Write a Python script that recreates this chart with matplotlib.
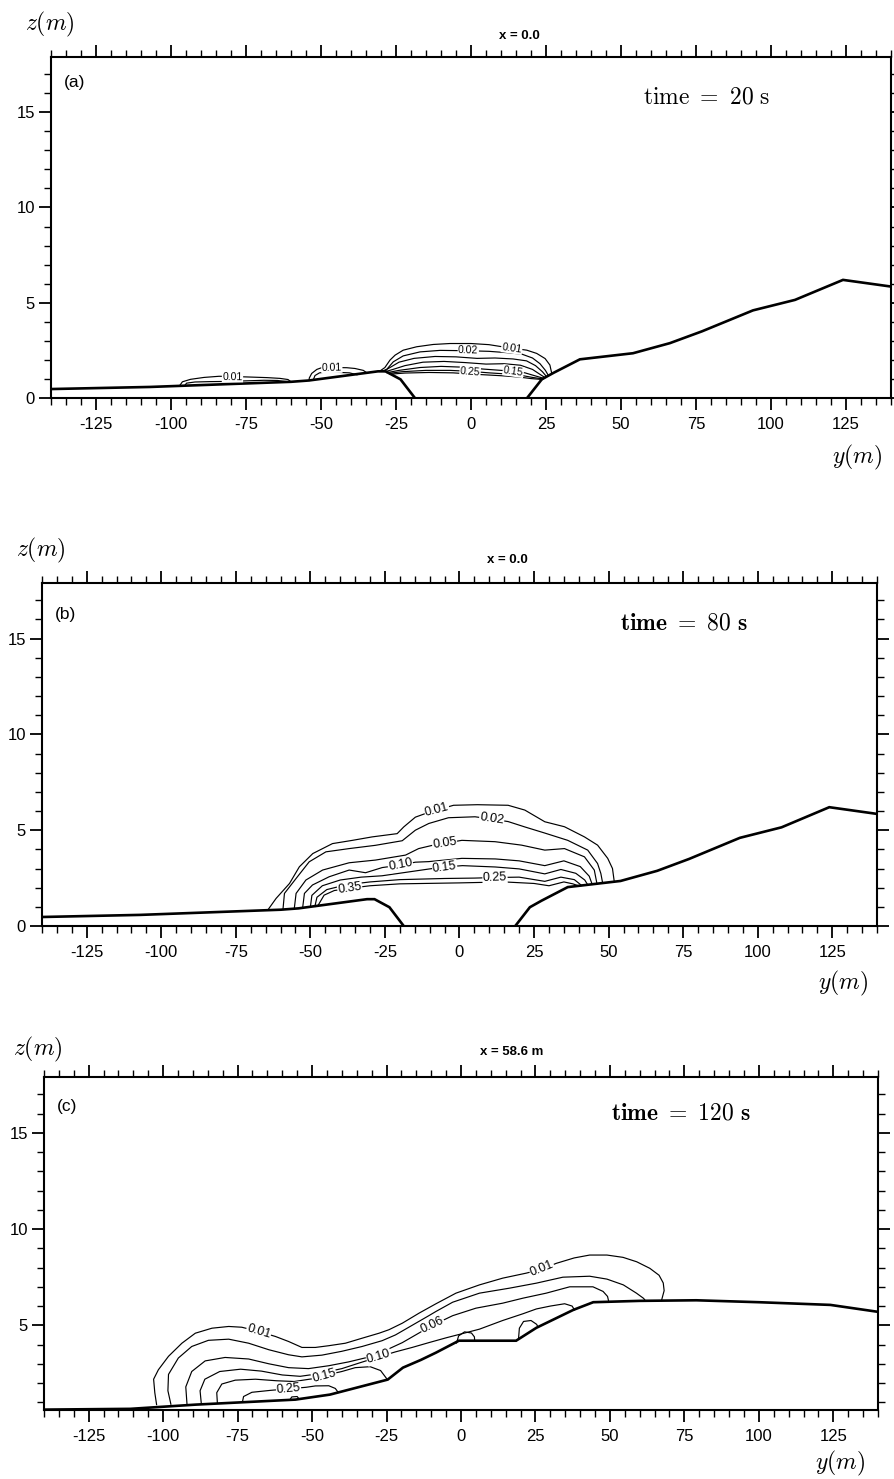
import numpy as np
import matplotlib
matplotlib.use("Agg")
import matplotlib.pyplot as plt
from matplotlib.ticker import MultipleLocator

plt.rcParams['font.family'] = ['Liberation Sans', 'DejaVu Sans']
plt.rcParams['mathtext.fontset'] = 'cm'
plt.rcParams['axes.unicode_minus'] = False

nan = np.nan
W, H = 895, 1479

# ground profile, section x = 0.0 (panels a and b); the gap is the channel
X0_GROUND_Y = [-140, -107, -60, -54, -31, -28.5, -23.5, -18.7, nan,
               18.7, 23.6, 27.5, 36.3, 54, 66.3, 77, 94, 108, 124, 140]
X0_GROUND_Z = [0.47, 0.58, 0.85, 0.92, 1.4, 1.4, 0.98, 0.0, nan,
               0.0, 0.98, 1.32, 2.03, 2.35, 2.88, 3.5, 4.6, 5.15, 6.2, 5.85]

# ground profile, section x = 58.6 m (panel c)
X586_GROUND_Y = [-140, -111, -89, -55.6, -44, -24.6, -19.5, -13.5, -8.4, -0.7,
                 18.5, 25.3, 37.7, 44.4, 60, 79, 100, 124, 140]
X586_GROUND_Z = [0.62, 0.66, 0.88, 1.14, 1.4, 2.18, 2.8, 3.2, 3.58, 4.2,
                 4.2, 4.87, 5.8, 6.2, 6.27, 6.3, 6.2, 6.06, 5.7]

# (a) t = 20 s -- isolines as (y, z) vertices
A_LEFT_OUT = [(-97.2, 0.63), (-96.2, 0.85), (-93.5, 0.98), (-89, 1.08), (-84, 1.14),
              (-79.5, 1.13), (-73.7, 1.1), (-68, 1.07), (-63.7, 1.03), (-61, 0.97), (-60, 0.85)]
A_LEFT_IN = [(-95.5, 0.64), (-94.8, 0.78), (-92, 0.84), (-87, 0.86), (-81, 0.87),
             (-75, 0.9), (-69, 0.93), (-64.5, 0.92), (-61.5, 0.86)]
A_MID_OUT = [(-54, 0.92), (-53.9, 1.05), (-53.1, 1.29), (-51.4, 1.5), (-49.8, 1.59),
             (-46.4, 1.6), (-41.4, 1.59), (-38.7, 1.55), (-35.9, 1.45), (-34.5, 1.3)]
A_MID_IN = [(-52.5, 0.98), (-52, 1.18), (-50.5, 1.32), (-48.5, 1.36), (-45, 1.35),
            (-40.5, 1.32), (-38, 1.22)]
A_C001 = [(-30.5, 1.4), (-28.7, 1.6), (-27, 1.99), (-25.3, 2.25), (-22.6, 2.51),
          (-18.1, 2.69), (-12.6, 2.81), (-7, 2.86), (0, 2.86), (6, 2.8), (10, 2.7),
          (13.6, 2.62), (18.6, 2.51), (21.9, 2.34), (24.7, 2.07), (26.3, 1.73), (26.9, 1.3)]
A_C002 = [(-29.8, 1.4), (-28.1, 1.5), (-25.9, 1.9), (-22.6, 2.21), (-17, 2.42),
          (-10.3, 2.5), (-0.9, 2.48), (6, 2.45), (12, 2.38), (17, 2.3), (20.5, 2.1),
          (23, 1.8), (24.8, 1.45), (25.8, 1.18)]
A_C005 = [(-29.2, 1.4), (-27, 1.6), (-24, 1.88), (-19, 2.08), (-12, 2.18), (-5, 2.16),
          (2, 2.08), (8, 2.1), (14, 2.05), (18.5, 1.95), (21.5, 1.7), (23.8, 1.38), (25.2, 1.12)]
A_C010 = [(-28.6, 1.38), (-26, 1.5), (-22, 1.7), (-16, 1.88), (-9, 1.92), (-2, 1.86),
          (5, 1.78), (11, 1.8), (16.5, 1.72), (20.5, 1.5), (23.2, 1.22), (24.7, 1.07)]
A_C015 = [(-28, 1.33), (-24, 1.45), (-17, 1.6), (-10, 1.66), (-3, 1.62), (4, 1.52),
          (10, 1.45), (14.1, 1.41), (18, 1.32), (21, 1.18), (24.3, 1.03)]
A_C025 = [(-27.5, 1.29), (-23, 1.38), (-15, 1.45), (-7, 1.45), (-0.3, 1.4), (6, 1.32),
          (12, 1.26), (17, 1.18), (20.5, 1.08), (24.0, 1.0)]
A_C035 = [(-27, 1.25), (-22, 1.31), (-14, 1.34), (-6, 1.32), (2, 1.24), (10, 1.17),
          (16, 1.1), (20, 1.02), (23.8, 0.97)]
A_LINES = [A_LEFT_OUT, A_LEFT_IN, A_MID_OUT, A_MID_IN,
           A_C001, A_C002, A_C005, A_C010, A_C015, A_C025, A_C035]
A_LABELS = [("0.01", A_LEFT_OUT, -79.5, 1.12), ("0.01", A_MID_OUT, -46.4, 1.6),
            ("0.02", A_C002, -0.9, 2.48), ("0.01", A_C001, 13.6, 2.62),
            ("0.25", A_C025, -0.3, 1.4), ("0.15", A_C015, 14.1, 1.41)]

# (b) t = 80 s
B_C001 = [(-64.3, 0.83), (-61.5, 1.44), (-57, 2.22), (-53.7, 3.09), (-49.2, 3.78),
          (-42.6, 4.30), (-35.9, 4.47), (-29.3, 4.65), (-20.9, 4.82), (-18.7, 5.17),
          (-14.8, 5.68), (-10, 5.95), (-7.6, 6.05), (-2, 6.3), (6, 6.33), (16.3, 6.3),
          (21.9, 6.05), (28.6, 5.44), (35.2, 5.18), (41.9, 4.65), (46.3, 4.22),
          (49.7, 3.53), (51.3, 3.0), (51.9, 2.31)]
B_C002 = [(-59.2, 0.86), (-58.7, 1.70), (-54.8, 2.48), (-50.4, 3.35), (-44.8, 3.87),
          (-37, 4.04), (-28.2, 4.21), (-19.2, 4.45), (-14.8, 5.0), (-10.3, 5.35),
          (-3.7, 5.65), (5.2, 5.7), (10.8, 5.58), (16.3, 5.45), (21.9, 5.17),
          (28.6, 4.85), (36.3, 4.47), (43, 3.96), (46.3, 3.26), (47.4, 2.74), (48, 2.24)]
B_C005 = [(-55.4, 0.91), (-54.8, 1.70), (-51.5, 2.40), (-45.9, 2.92), (-37, 3.30),
          (-28.2, 3.44), (-18.1, 3.70), (-13.7, 4.04), (-8, 4.25), (-5, 4.32),
          (0.8, 4.47), (11.9, 4.40), (20.8, 4.22), (28.6, 3.96), (35.2, 4.04),
          (41.9, 3.61), (45.2, 2.92), (46.1, 2.2)]
B_C010 = [(-52.6, 0.95), (-52, 1.70), (-49.3, 2.14), (-43.7, 2.57), (-37, 2.92),
          (-31.5, 2.78), (-25.9, 3.05), (-19.8, 3.18), (-14.8, 3.33), (-10.3, 3.36),
          (0.8, 3.53), (12, 3.5), (20, 3.4), (28.6, 3.15), (35, 3.4), (40.5, 3.1),
          (43.5, 2.6), (44.5, 2.17)]
B_C015 = [(-50, 0.99), (-49.5, 1.6), (-46, 2.1), (-40, 2.4), (-33, 2.55), (-26, 2.62),
          (-18, 2.8), (-10, 2.98), (-5, 3.08), (1, 3.15), (12, 3.08), (20, 2.98),
          (28.6, 2.72), (34, 2.95), (39, 2.75), (42, 2.4), (43, 2.15)]
B_C025 = [(-48.5, 1.02), (-47.8, 1.5), (-44.5, 1.9), (-38, 2.15), (-30, 2.3),
          (-20, 2.42), (-5, 2.48), (5, 2.5), (11.9, 2.53), (20, 2.55), (28.6, 2.33),
          (34, 2.55), (38.5, 2.42), (41, 2.11)]
B_C035 = [(-47.6, 1.03), (-45.4, 1.61), (-42, 1.85), (-36.8, 1.97), (-30, 2.1),
          (-20, 2.2), (0, 2.25), (15, 2.3), (25, 2.22), (30, 2.1), (35, 2.3),
          (38, 2.2), (40, 2.09)]
B_LINES = [B_C001, B_C002, B_C005, B_C010, B_C015, B_C025, B_C035]
B_LABELS = [("0.01", B_C001, -7.6, 6.05), ("0.02", B_C002, 10.8, 5.58),
            ("0.05", B_C005, -5, 4.32), ("0.10", B_C010, -19.8, 3.18),
            ("0.15", B_C015, -5, 3.08), ("0.25", B_C025, 11.9, 2.53),
            ("0.35", B_C035, -36.8, 1.97)]

# (c) t = 120 s
C_C001 = [(-102.2, 0.88), (-102.8, 1.5), (-103.2, 2.2), (-101.6, 2.69), (-98.2, 3.39),
          (-93.7, 4.07), (-89.2, 4.59), (-83.6, 4.85), (-78, 4.94), (-73.6, 4.9),
          (-67.9, 4.68), (-62.3, 4.42), (-57.9, 4.16), (-53.4, 3.85), (-48.9, 3.85),
          (-44.4, 3.94), (-38.8, 4.07), (-33.2, 4.33), (-27.5, 4.59), (-24.2, 4.77),
          (-19.7, 5.11), (-14.1, 5.63), (-8.4, 6.12), (-1.7, 6.67), (6.2, 7.1),
          (14.0, 7.45), (21.9, 7.71), (27.2, 7.92), (32, 8.22), (38, 8.5), (43.2, 8.65),
          (49, 8.65), (54.4, 8.53), (59, 8.3), (63.4, 7.96), (66.5, 7.6), (67.9, 7.2),
          (68.2, 6.8), (67.3, 6.28)]
C_C002 = [(-97.4, 0.9), (-98.4, 1.6), (-98.2, 2.45), (-94.9, 3.3), (-90.4, 3.9),
          (-84.8, 4.22), (-78, 4.28), (-71.3, 4.07), (-64.5, 3.73), (-57.9, 3.47),
          (-53.4, 3.36), (-46.7, 3.45), (-40, 3.65), (-33.2, 3.9), (-26.5, 4.2),
          (-22, 4.5), (-16.4, 5.0), (-10.8, 5.5), (-8.4, 5.72), (-2.8, 6.2), (6.2, 6.67),
          (16.3, 6.93), (25.3, 7.19), (34.2, 7.5), (43.2, 7.55), (49, 7.4), (54.5, 7.1),
          (58.9, 6.67), (61.3, 6.4), (62, 6.26)]
C_C006 = [(-92, 0.92), (-92.4, 1.8), (-90.4, 2.6), (-85.9, 3.15), (-79.2, 3.33),
          (-71.3, 3.25), (-64.5, 3.0), (-57.9, 2.8), (-51.2, 2.75), (-44.4, 2.9),
          (-37.7, 3.1), (-31, 3.35), (-25.3, 3.7), (-19.7, 4.1), (-14.1, 4.6),
          (-9.6, 5.0), (-5.5, 5.3), (-2.8, 5.5), (5, 5.89), (14, 6.15), (20.8, 6.41),
          (28.6, 6.67), (36.5, 7.0), (44.3, 7.0), (47.7, 6.76), (49.2, 6.5), (49.6, 6.23)]
C_C010 = [(-87.2, 0.95), (-87.6, 1.6), (-86, 2.2), (-81, 2.6), (-74, 2.72),
          (-67, 2.62), (-60, 2.42), (-54, 2.35), (-48, 2.48), (-40, 2.75), (-34, 3.05),
          (-27.6, 3.36), (-22, 3.62), (-16.4, 3.85), (-10.8, 4.1), (-5, 4.35), (0, 4.55),
          (6.2, 4.8), (14, 5.25), (20.8, 5.6), (25.3, 5.85), (30, 6.0), (34.8, 6.12),
          (37.3, 6.0), (38.1, 5.8)]
C_C015 = [(-81.8, 0.98), (-82, 1.5), (-80.3, 1.95), (-75.8, 2.15), (-69, 2.2),
          (-62, 2.12), (-56, 2.08), (-50, 2.22), (-46, 2.39), (-40, 2.6), (-35.5, 2.8),
          (-30.5, 2.85), (-27, 2.65), (-25.3, 2.3), (-24.8, 2.2)]
C_C025 = [(-73.4, 1.0), (-73, 1.3), (-70.2, 1.52), (-64, 1.62), (-57.9, 1.7),
          (-52, 1.78), (-48.9, 1.85), (-44.4, 1.86), (-42.2, 1.72), (-41.2, 1.51)]
C_ISLE_1 = [(-57.5, 1.12), (-56.8, 1.28), (-55, 1.3), (-54.3, 1.16)]
C_ISLE_2 = [(-1.5, 4.08), (-0.8, 4.45), (1.2, 4.66), (3.5, 4.6), (4.5, 4.4), (4.6, 4.2)]
C_ISLE_3 = [(19.3, 4.28), (19.6, 4.85), (21, 5.2), (23.5, 5.25), (25.4, 5.05), (25.8, 4.92)]
C_LINES = [C_C001, C_C002, C_C006, C_C010, C_C015, C_C025, C_ISLE_1, C_ISLE_2, C_ISLE_3]
C_LABELS = [("0.01", C_C001, -67.9, 4.68), ("0.01", C_C001, 27.2, 7.92),
            ("0.06", C_C006, -9.6, 5.0), ("0.10", C_C010, -27.6, 3.36),
            ("0.15", C_C015, -46, 2.39), ("0.25", C_C025, -57.9, 1.7)]


def px_rect(left, top, right, bottom):
    return [left / W, 1 - bottom / H, (right - left) / W, (bottom - top) / H]


def label_angle(ax, pts, y, z):
    d = ax.transData.transform(np.asarray(pts, dtype=float))
    q = ax.transData.transform((y, z))
    mids = (d[:-1] + d[1:]) / 2
    i = int(np.argmin(np.hypot(mids[:, 0] - q[0], mids[:, 1] - q[1])))
    dx, dy = d[i + 1] - d[i]
    ang = np.degrees(np.arctan2(dy, dx))
    if ang > 90:
        ang -= 180
    elif ang < -90:
        ang += 180
    return ang


def panel(fig, rect, zlim, ground_y, ground_z, lines, labels, lab_size):
    ax = fig.add_axes(rect)
    ax.set_xlim(-140, 140)
    ax.set_ylim(*zlim)
    ax.plot(ground_y, ground_z, color='black', lw=1.9, solid_joinstyle='miter', zorder=3)
    for pts in lines:
        p = np.asarray(pts)
        ax.plot(p[:, 0], p[:, 1], color='black', lw=0.85, zorder=2)
    for text, pts, y, z in labels:
        ax.text(y, z, text, fontsize=lab_size, ha='center', va='center',
                rotation=label_angle(ax, pts, y, z), rotation_mode='anchor',
                bbox=dict(fc='white', ec='none', pad=0.4), zorder=4)

    ax.xaxis.set_major_locator(MultipleLocator(25))
    ax.xaxis.set_minor_locator(MultipleLocator(5))
    ax.yaxis.set_major_locator(MultipleLocator(5))
    ax.yaxis.set_minor_locator(MultipleLocator(1))
    ax.tick_params(which='both', direction='out', top=True, right=True,
                   labeltop=False, labelright=False, labelsize=12)
    ax.tick_params(which='major', length=8.5, width=1.3)
    ax.tick_params(which='minor', length=5, width=1.0)
    ax.tick_params(axis='x', pad=5)
    ax.tick_params(axis='y', pad=3)
    for s in ax.spines.values():
        s.set_linewidth(1.5)
    return ax


fig = plt.figure(figsize=(W / 100, H / 100), dpi=100)


def ftext(x, y, s, **kw):
    fig.text(x / W, 1 - y / H, s, ha='center', va='center', **kw)


panel(fig, px_rect(51, 57, 891, 398), (0, 17.9), X0_GROUND_Y, X0_GROUND_Z,
      A_LINES, A_LABELS, 7.5)
panel(fig, px_rect(42, 583, 877, 926), (0, 17.9), X0_GROUND_Y, X0_GROUND_Z,
      B_LINES, B_LABELS, 9)
panel(fig, px_rect(44, 1077, 878, 1410), (0.6, 17.9), X586_GROUND_Y, X586_GROUND_Z,
      C_LINES, C_LABELS, 9)

# panel headers and annotations
for (zx, zy), (sx, sy), sect, (tx, ty), (lx, ly), tag, (yx, yy), tstr in [
        ((50, 24), (519, 36), "x = 0.0", (75, 82), (707, 98), "(a)", (857, 457),
         r'$\mathrm{time}\ =\ 20\ \mathrm{s}$'),
        ((41, 550), (507, 560), "x = 0.0", (66, 615), (684, 623), "(b)", (843, 983),
         r'$\mathbf{time}\ =\ \mathbf{80}\ \mathbf{s}$'),
        ((38, 1049), (512, 1052), "x = 58.6 m", (67, 1106), (681, 1113), "(c)", (840, 1463),
         r'$\mathbf{time}\ =\ \mathbf{120}\ \mathbf{s}$')]:
    ftext(zx, zy, r'$z(m)$', fontsize=17)
    ftext(sx, sy, sect, fontsize=9.5, fontweight='bold')
    ftext(tx, ty, tag, fontsize=12.5)
    ftext(lx, ly, tstr, fontsize=17)
    ftext(yx, yy, r'$y(m)$', fontsize=17)

fig.savefig("out.png", dpi=100)
